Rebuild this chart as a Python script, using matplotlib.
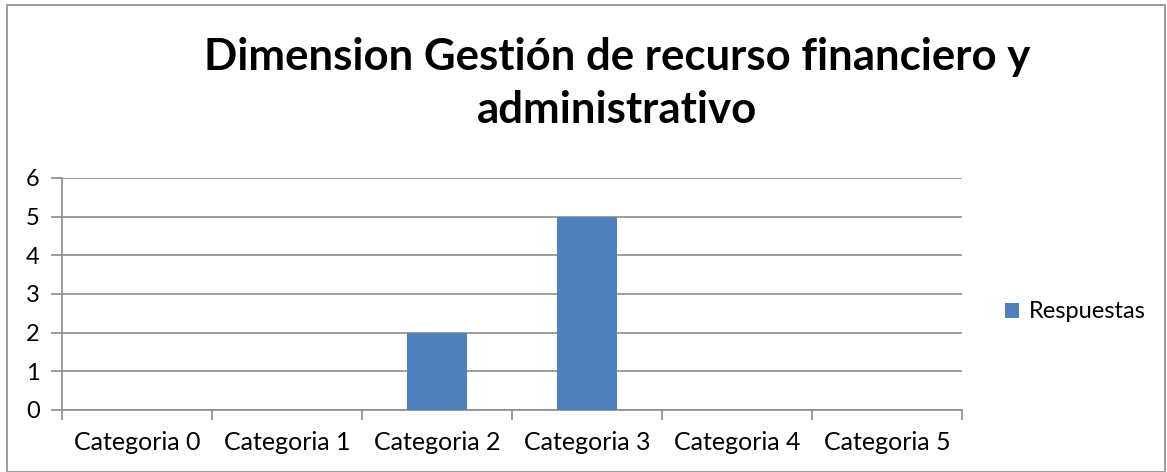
import matplotlib
matplotlib.use("Agg")
import matplotlib.pyplot as plt
from matplotlib.patches import Rectangle

categories = ["Categoria 0", "Categoria 1", "Categoria 2", "Categoria 3", "Categoria 4", "Categoria 5"]
respuestas = [0, 0, 2, 5, 0, 0]
yticks = [0, 1, 2, 3, 4, 5, 6]

plt.rcParams["font.family"] = ["Lato", "DejaVu Sans"]

fig = plt.figure(figsize=(11.67, 4.72), dpi=100)
ax = fig.add_axes([0.0531, 0.1314, 0.7712, 0.4915])

x = range(len(categories))
bars = ax.bar(x, respuestas, width=0.4, color="#4F81BD", label="Respuestas", zorder=3)

ax.set_xlim(-0.5, len(categories) - 0.5)
ax.set_ylim(0, 6)
ax.set_yticks(yticks)
ax.set_yticklabels([str(v) for v in yticks], fontsize=17)
ax.yaxis.grid(True, color="#8c8c8c", lw=1.2, zorder=0)
ax.tick_params(axis="y", length=8, color="#8c8c8c", width=1.2, pad=8)

# category labels centred, tick marks on the boundaries
ax.set_xticks(list(x))
ax.set_xticklabels(categories, fontsize=18)
ax.tick_params(axis="x", length=0, pad=15)
ax.set_xticks([i - 0.5 for i in range(len(categories) + 1)], minor=True)
ax.tick_params(axis="x", which="minor", length=7, color="#8c8c8c", width=1.2)

for side in ("top", "right"):
    ax.spines[side].set_visible(False)
for side in ("left", "bottom"):
    ax.spines[side].set_color("#8c8c8c")
    ax.spines[side].set_linewidth(1.2)

fig.text(0.529, 0.823, "Dimension Gestión de recurso financiero y\nadministrativo",
         ha="center", va="center", fontsize=31.5, fontweight="bold", linespacing=1.37)

fig.legend(handles=[bars], loc="center left", bbox_to_anchor=(0.853, 0.339),
           frameon=False, fontsize=17, handlelength=0.6, handleheight=0.6,
           handletextpad=0.4, borderaxespad=0)

# outer chart border
fig.patches.append(Rectangle((0.006, 0.0), 0.992, 0.99, transform=fig.transFigure,
                             fill=False, edgecolor="#8c8c8c", lw=1.2))

fig.savefig("out.png", dpi=100)
